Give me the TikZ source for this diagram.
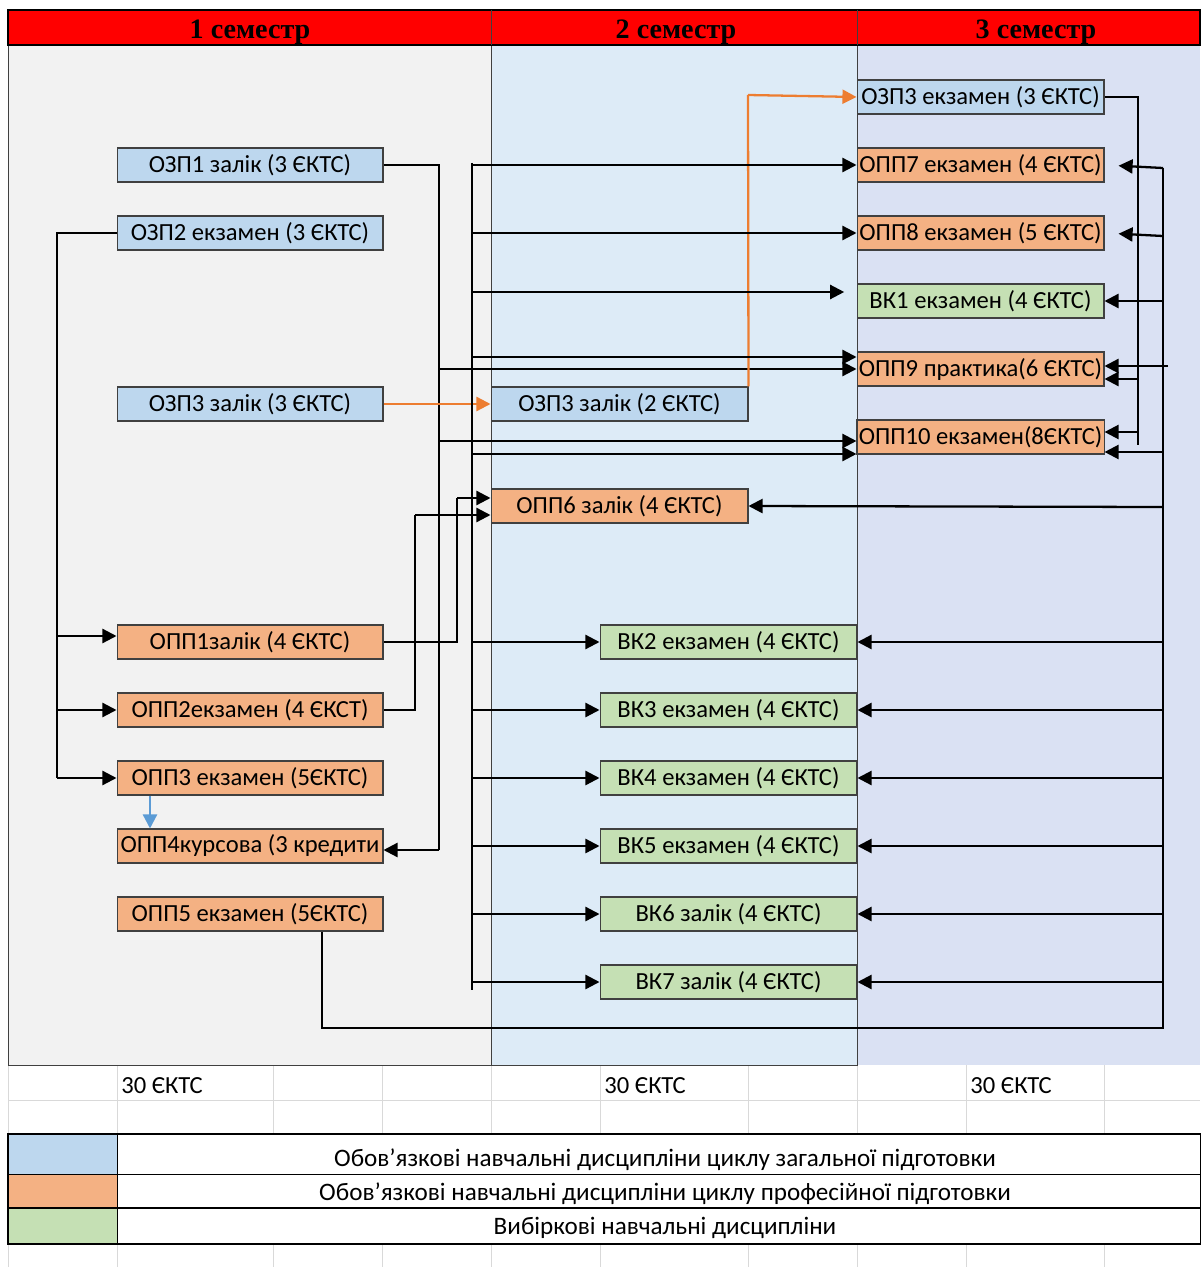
\documentclass[tikz,border=0pt]{standalone}
\usepackage{fontspec}
\setmainfont{Carlito}
\newfontfamily\hdfont{Liberation Serif}
\usetikzlibrary{arrows.meta}
\definecolor{hdred}{HTML}{FF0000}
\definecolor{colone}{HTML}{F2F2F2}
\definecolor{coltwo}{HTML}{DDEBF7}
\definecolor{colthree}{HTML}{DAE1F3}
\definecolor{ozblue}{HTML}{BDD7EE}
\definecolor{oporange}{HTML}{F4B183}
\definecolor{vkgreen}{HTML}{C5E0B4}
\definecolor{arorange}{HTML}{ED7D31}
\definecolor{arblue}{HTML}{5B9BD5}
\definecolor{gridc}{HTML}{D9D9D9}
\begin{document}
\begin{tikzpicture}[x=0.02cm, y=-0.02cm, font=\fontsize{14}{16}\selectfont,
    box/.style={draw=black!75, line width=0.6pt, minimum height=0.68cm, inner sep=1pt},
    oz/.style={box, fill=ozblue}, op/.style={box, fill=oporange}, vk/.style={box, fill=vkgreen},
    wa/.style={minimum width=5.32cm}, wb/.style={minimum width=5.14cm}, wc/.style={minimum width=4.94cm},
    ln/.style={line width=0.6pt},
    ar/.style={line width=1.3pt, -{Triangle[length=8pt,width=8pt]}},
    oar/.style={line width=1.3pt, arorange, -{Triangle[length=8pt,width=8pt]}},
    hd/.style={font=\hdfont\bfseries\fontsize{16}{18}\selectfont},
    lg/.style={font=\fontsize{14.3}{16}\selectfont}]
    \useasboundingbox (0,0) rectangle (1200,1267);
    \fill[white] (0,0) rectangle (1200,1267);
    \foreach \x in {117,273,382,491,600,748,857,966,1104}
        \draw[gridc] (\x,1065) -- (\x,1267);
    \draw[gridc] (8,1100) -- (1200,1100);
    \draw[gridc] (8,1065) -- (8,1267);

    \filldraw[fill=colone, draw=black!75] (8,45) rectangle (491,1065);
    \filldraw[fill=coltwo, draw=black!75] (491,45) rectangle (857,1065);
    \fill[colthree] (857,45) rectangle (1200,1065);
    \draw[black!75] (857,45) -- (857,1065);
    \filldraw[fill=hdred, draw=black, line width=0.8pt] (8,10) rectangle (1200,45);
    \draw[black!75] (491,10) -- (491,45) (857,10) -- (857,45);
    \node[hd] (s1) at (250,32) {1 семестр};
    \node[hd] (s2) at (676,32) {2 семестр};
    \node[hd] (s3) at (1036,32) {3 семестр};

    \node[oz, wa] (ozp1) at (250,165) {ОЗП1 залік (3 ЄКТС)};
    \node[oz, wa] (ozp2) at (250,233) {ОЗП2 екзамен (3 ЄКТС)};
    \node[oz, wa] (ozp3a) at (250,404) {ОЗП3 залік (3 ЄКТС)};
    \node[op, wa] (opp1) at (250,642) {ОПП1залік (4 ЄКТС)};
    \node[op, wa] (opp2) at (250,710) {ОПП2екзамен (4 ЄКСТ)};
    \node[op, wa] (opp3) at (250,778) {ОПП3 екзамен (5ЄКТС)};
    \node[op, wa] (opp4) at (250,846) {ОПП4курсова (3 кредити};
    \node[op, wa] (opp5) at (250,914) {ОПП5 екзамен (5ЄКТС)};

    \node[oz, wb] (ozp3b) at (619.5,404) {ОЗП3 залік (2 ЄКТС)};
    \node[op, wb] (opp6) at (619.5,506) {ОПП6 залік (4 ЄКТС)};
    \node[vk, wb] (vk2) at (728.5,642) {ВК2 екзамен (4 ЄКТС)};
    \node[vk, wb] (vk3) at (728.5,710) {ВК3 екзамен (4 ЄКТС)};
    \node[vk, wb] (vk4) at (728.5,778) {ВК4 екзамен (4 ЄКТС)};
    \node[vk, wb] (vk5) at (728.5,846) {ВК5 екзамен (4 ЄКТС)};
    \node[vk, wb] (vk6) at (728.5,914) {ВК6 залік (4 ЄКТС)};
    \node[vk, wb] (vk7) at (728.5,982) {ВК7 залік (4 ЄКТС)};

    \node[oz, wc] (ozp3c) at (980.5,97) {ОЗП3 екзамен (3 ЄКТС)};
    \node[op, wc] (opp7) at (980.5,165) {ОПП7 екзамен (4 ЄКТС)};
    \node[op, wc] (opp8) at (980.5,233) {ОПП8 екзамен (5 ЄКТС)};
    \node[vk, wc] (vk1) at (980.5,301) {ВК1 екзамен (4 ЄКТС)};
    \node[op, wc] (opp9) at (980.5,369) {ОПП9 практика(6 ЄКТС)};
    \node[op, wc] (opp10) at (980.5,437) {ОПП10 екзамен(8ЄКТС)};

    \draw[ln] (ozp2.west) -- (57,233) -- (57,778);
    \draw[ar] (57,636) -- (opp1.west |- 0,636);
    \draw[ar] (57,710) -- (opp2.west);
    \draw[ar] (57,778) -- (opp3.west);
    \draw[line width=1.3pt, arblue, -{Triangle[length=8pt,width=8pt]}] (opp3.south -| 150,0) -- (opp4.north -| 150,0);

    \draw[ln] (ozp1.east) -- (439,165) -- (439,850);
    \draw[ar] (439,850) -- (opp4.east |- 0,850);
    \draw[ar] (439,369) -- (opp9.west);
    \draw[ar] (439,441) -- (opp10.west |- 0,441);
    \draw[ln] (opp1.east) -- (457,642) -- (457,498);
    \draw[ar] (457,498) -- (opp6.west |- 0,498);
    \draw[ln] (opp2.east) -- (415,710) -- (415,515);
    \draw[ar] (415,515) -- (opp6.west |- 0,515);
    \draw[oar] (ozp3a) -- (ozp3b);
    \draw[arorange, line width=1.3pt] (ozp3b.north east) -- (748,95);
    \draw[oar] (748,95) -- (ozp3c.west);

    \draw[ln] (472,163) -- (472,990);
    \draw[ar] (472,165) -- (opp7.west);
    \draw[ar] (472,233) -- (opp8.west);
    \draw[ar, shorten >=7pt] (472,292) -- (vk1.west |- 0,292);
    \draw[ar] (472,357) -- (opp9.west |- 0,357);
    \draw[ar] (472,454) -- (opp10.west |- 0,454);
    \foreach \n in {vk2,vk3,vk4,vk5,vk6,vk7}
        \draw[ar] (472,0 |- \n.west) -- (\n.west);

    \draw[ln] (ozp3c.east) -- (1138,97) -- (1138,445);
    \draw[ar] (1138,379) -- (opp9.east |- 0,379);
    \draw[ar] (1138,432) -- (opp10.east |- 0,432);

    \draw[ln] (opp5.south -| 322,0) -- (322,1028) -- (1163,1028) -- (1163,168);
    \draw[ar, shorten >=8pt] (1163,168) -- (opp7.east);
    \draw[ar, shorten >=8pt] (1163,236) -- (opp8.east);
    \draw[ar] (1163,301) -- (vk1.east);
    \draw[ar] (1168,366) -- (opp9.east |- 0,366);
    \draw[ar] (1163,452) -- (opp10.east |- 0,452);
    \draw[ar] (1163,507) -- (opp6.east);
    \foreach \n in {vk2,vk3,vk4,vk5,vk6,vk7}
        \draw[ar] (1163,0 |- \n.east) -- (\n.east);

    \node (c1) at (162,1086) {30 ЄКТС};
    \node (c2) at (645,1086) {30 ЄКТС};
    \node (c3) at (1011,1086) {30 ЄКТС};
    \draw[black, line width=0.6pt] (8,1134) rectangle (1200,1244);
    \filldraw[fill=ozblue, draw=black] (8,1134) rectangle (117,1174);
    \filldraw[fill=oporange, draw=black] (8,1174) rectangle (117,1208);
    \filldraw[fill=vkgreen, draw=black] (8,1208) rectangle (117,1244);
    \filldraw[fill=white, draw=black] (117,1134) rectangle (1200,1174);
    \filldraw[fill=white, draw=black] (117,1174) rectangle (1200,1208);
    \filldraw[fill=white, draw=black] (117,1208) rectangle (1200,1244);
    \draw[black, line width=1.2pt] (8,1134) -- (1200,1134) (8,1208) -- (1200,1208) (8,1244) -- (1200,1244);
    \node[lg] (lg1) at (665,1160) {Обов’язкові навчальні дисципліни циклу загальної підготовки};
    \node[lg] (lg2) at (665,1194) {Обов’язкові навчальні дисципліни циклу  професійної підготовки};
    \node[lg] (lg3) at (665,1228) {Вибіркові навчальні дисципліни};
\end{tikzpicture}
\end{document}
